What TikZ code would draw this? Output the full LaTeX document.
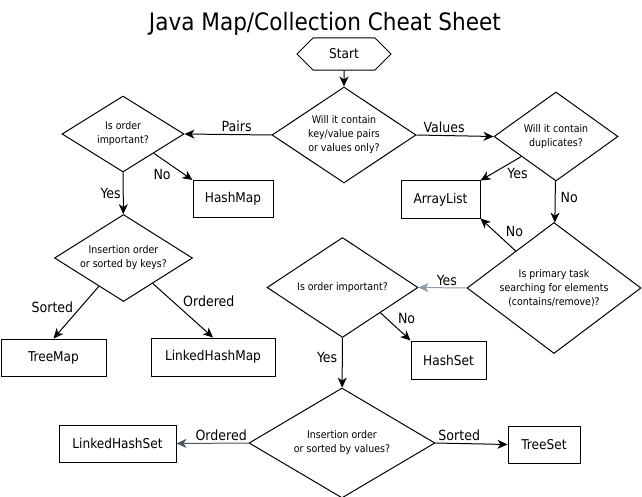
\documentclass[tikz,border=0pt]{standalone}
\usepackage{fontspec}
\setmainfont{DejaVu Sans Condensed}
\usepackage{xcolor}
\usepackage{tikz}
\usetikzlibrary{positioning, shapes.geometric, shapes.misc, arrows.meta}
\definecolor{softline}{HTML}{8A9AAA}
\definecolor{darkline}{HTML}{4A5560}

\begin{document}
\begin{tikzpicture}[x=1pt, y=-1pt, line width=1pt,
    decision/.style={draw, diamond, inner sep=0pt, align=center, font=\fontsize{10.5}{14}\selectfont},
    box/.style={draw, rectangle, inner sep=0pt, minimum height=37pt, font=\fontsize{13.5}{16}\selectfont},
    terminal/.style={draw, chamfered rectangle, chamfered rectangle xsep=13pt, chamfered rectangle ysep=11pt,
        inner sep=0pt, minimum width=94pt, minimum height=22pt, font=\fontsize{13.5}{16}\selectfont},
    lbl/.style={inner sep=2pt, font=\fontsize{14}{16}\selectfont},
    >={Stealth[length=10pt, width=9pt, inset=3pt]}]
    \useasboundingbox (0,0) rectangle (642,497);
    \fill[white] (0,0) rectangle (642,497);

    % Nodes
    \node[inner sep=0pt, anchor=base, font=\fontsize{24}{28}\selectfont] (title) at (325,31) {Java Map/Collection Cheat Sheet};
    \node[terminal] (start) at (344,54) {Start};
    \node[decision, minimum width=144pt, minimum height=96pt, aspect=1.5] (kind) at (344,135) {Will it contain\\key/value pairs\\or values only?};
    \node[decision, minimum width=122pt, minimum height=76pt, aspect=1.6] (maporder) at (123,134) {Is order\\important?};
    \node[decision, minimum width=124pt, minimum height=89pt, aspect=1.4] (dups) at (556,136.5) {Will it contain\\duplicates?};
    \node[decision, minimum width=138pt, minimum height=87pt, aspect=1.6] (mapsort) at (123.5,258) {Insertion order\\or sorted by keys?};
    \node[decision, minimum width=174pt, minimum height=131pt, aspect=1.33] (search) at (554,288) {Is primary task\\searching for elements\\(contains/remove)?};
    \node[decision, minimum width=151pt, minimum height=100pt, aspect=1.5] (setorder) at (342.5,287.5) {Is order important?};
    \node[decision, minimum width=186pt, minimum height=110pt, aspect=1.7] (setsort) at (342,443) {Insertion order\\or sorted by values?};

    \node[box, minimum width=80pt] (hashmap) at (233,199) {HashMap};
    \node[box, minimum width=79pt] (arraylist) at (440.5,199.5) {ArrayList};
    \node[box, minimum width=75pt, minimum height=38pt] (hashset) at (448.5,360) {HashSet};
    \node[box, minimum width=105pt] (treemap) at (53.5,357.5) {TreeMap};
    \node[box, minimum width=124pt, minimum height=38pt] (linkedmap) at (213,357) {LinkedHashMap};
    \node[box, minimum width=117pt] (linkedset) at (117.5,443.5) {LinkedHashSet};
    \node[box, minimum width=72pt] (treeset) at (544,444.5) {TreeSet};

    % Arrows
    \draw[->] (start) -- (kind);
    \draw[->] (kind.west) -- node[lbl, pos=0.4, above] {Pairs} (maporder.east);
    \draw[->] (kind.east) -- node[lbl, pos=0.36, above] {Values} (dups.west);
    \draw[->] (maporder.south east) -- node[lbl, pos=0.5, below left] {No} (hashmap.north west);
    \draw[->] (maporder) -- node[lbl, left] {Yes} (mapsort);
    \draw[->] (mapsort.229) -- node[lbl, pos=0.4, left=5pt] {Sorted} (treemap.north);
    \draw[->] (mapsort.-41) -- node[lbl, pos=0.33, right=8pt] {Ordered} (linkedmap.north);
    \draw[->] (dups.210) -- node[lbl, pos=0.4, below right] {Yes} (arraylist.north east);
    \draw[->] (dups) -- node[lbl, pos=0.4, right=3pt] {No} (search);
    \draw[->] (search.136) -- node[lbl, pos=0.35, above right] {No} (arraylist.south east);
    \draw[->, softline] (search.west) -- node[lbl, pos=0.41, above, black] {Yes} (setorder.east);
    \draw[->] (setorder.south east) -- node[lbl, pos=0.5, above right] {No} (hashset.north west);
    \draw[->] (setorder) -- node[lbl, pos=0.4, left=2.5pt] {Yes} (setsort);
    \draw[->, darkline] (setsort.west) -- node[lbl, pos=0.38, above, black] {Ordered} (linkedset.east);
    \draw[->] (setsort.east) -- node[lbl, pos=0.33, above] {Sorted} (treeset.west);
\end{tikzpicture}
\end{document}
